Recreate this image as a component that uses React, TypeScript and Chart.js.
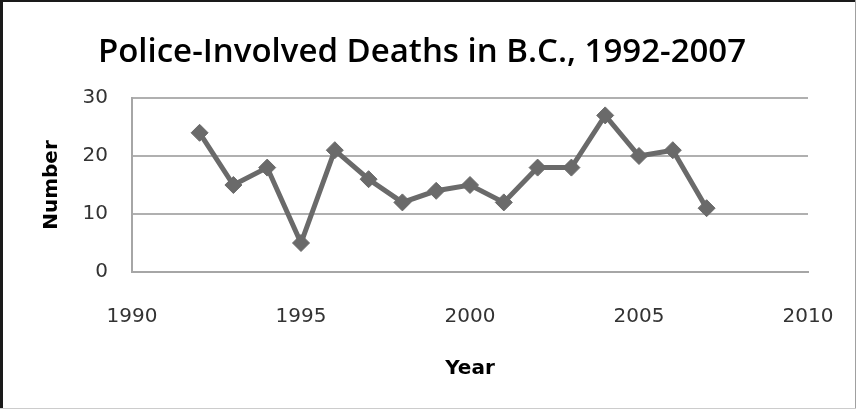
import React, { useEffect, useRef } from "react";
import { Chart, registerables } from "chart.js";

Chart.register(...registerables);

const years = [1992, 1993, 1994, 1995, 1996, 1997, 1998, 1999, 2000, 2001, 2002, 2003, 2004, 2005, 2006, 2007];
const deaths = [24, 15, 18, 5, 21, 16, 12, 14, 15, 12, 18, 18, 27, 20, 21, 11];
const xTicks = [1990, 1995, 2000, 2005, 2010];
const yTicks = [0, 10, 20, 30];
const titleText = "Police-Involved Deaths in B.C., 1992-2007";
const xTitle = "Year";
const yTitle = "Number";

const frame = {
  id: "frame",
  beforeDraw(chart: any) {
    const { ctx, width, height } = chart;
    ctx.save();
    ctx.fillStyle = "#ffffff";
    ctx.fillRect(0, 0, width, height);
    ctx.restore();
  },
  afterDraw(chart: any) {
    const { ctx, width, height } = chart;
    ctx.save();
    ctx.fillStyle = "#1a1a1a";
    ctx.fillRect(0, 0, width, 2);
    ctx.fillRect(0, 0, 3, height);
    ctx.fillStyle = "#a0a0a0";
    ctx.fillRect(width - 1, 0, 1, height);
    ctx.fillStyle = "#cccccc";
    ctx.fillRect(0, height - 1, width, 1);
    ctx.restore();
  },
};

export default function App() {
  const ref = useRef<HTMLCanvasElement>(null);
  useEffect(() => {
    document.body.style.margin = "0";
    const chart = new Chart(ref.current!, {
      type: "line",
      data: {
        datasets: [
          {
            data: years.map((y, i) => ({ x: y, y: deaths[i] })),
            borderColor: "#6a6a6a",
            backgroundColor: "#6a6a6a",
            borderWidth: 5,
            pointStyle: "rectRot",
            pointRadius: 8.5,
            pointBorderWidth: 1,
            pointBorderColor: "#6a6a6a",
            pointBackgroundColor: "#6a6a6a",
            tension: 0,
          },
        ],
      },
      options: {
        responsive: false,
        animation: false,
        layout: { padding: { left: 36, right: 48, top: 0, bottom: 24 } },
        plugins: {
          legend: { display: false },
          tooltip: { enabled: false },
          title: {
            display: true,
            text: titleText,
            color: "#000000",
            font: { family: "'Open Sans'", size: 33, weight: "600" },
            padding: { top: 33, bottom: 25.4 },
          },
        },
        scales: {
          x: {
            type: "linear",
            min: 1990,
            max: 2010,
            afterBuildTicks: (s: any) => {
              s.ticks = xTicks.map((v) => ({ value: v }));
            },
            afterFit: (s: any) => {
              s.height = 113;
              s.paddingLeft = 0;
              s.paddingRight = 0;
            },
            grid: { display: false, drawTicks: false },
            border: { display: true, color: "#a6a6a6", width: 2 },
            ticks: {
              padding: 33,
              color: "#333333",
              font: { family: "'DejaVu Sans'", size: 20 },
              maxRotation: 0,
              callback: (v: any) => String(v),
            },
            title: {
              display: true,
              text: xTitle,
              color: "#000000",
              font: { family: "'DejaVu Sans'", size: 20, weight: "bold" },
            },
          },
          y: {
            min: 0,
            max: 30,
            afterBuildTicks: (s: any) => {
              s.ticks = yTicks.map((v) => ({ value: v }));
            },
            afterFit: (s: any) => {
              s.width = 96;
            },
            grid: { color: "#b0b0b0", lineWidth: 2, drawTicks: false },
            border: { display: true, color: "#a6a6a6", width: 2 },
            ticks: {
              padding: 24,
              color: "#333333",
              font: { family: "'DejaVu Sans'", size: 20 },
              callback: (v: any) => String(v),
            },
            title: {
              display: true,
              text: yTitle,
              color: "#000000",
              font: { family: "'DejaVu Sans'", size: 20, weight: "bold" },
            },
          },
        },
      },
      plugins: [frame],
    });
    return () => chart.destroy();
  }, []);
  return <canvas ref={ref} width={856} height={409} style={{ display: "block" }} />;
}
